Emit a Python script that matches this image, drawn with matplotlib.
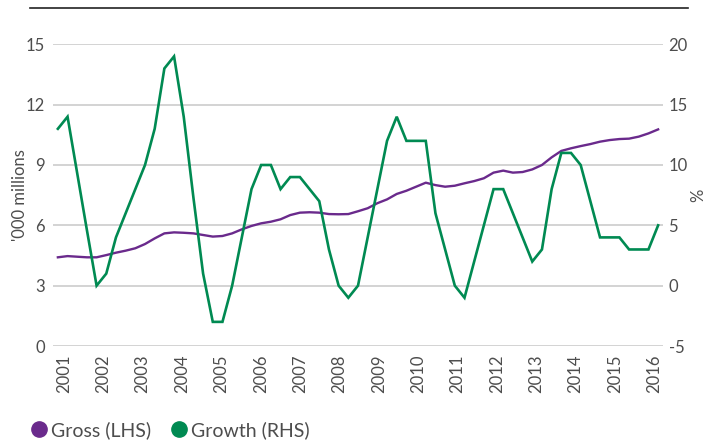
import numpy as np
import matplotlib
matplotlib.use('Agg')
import matplotlib.pyplot as plt
from matplotlib.lines import Line2D

plt.rcParams['font.family'] = ['Lato', 'DejaVu Sans']

# quarterly observations, 2001 to 2016
gross = [4.41, 4.47, 4.44, 4.41, 4.41, 4.52, 4.64, 4.74, 4.86, 5.07,
         5.35, 5.60, 5.65, 5.63, 5.60, 5.52, 5.44, 5.47, 5.60, 5.80,
         5.97, 6.10, 6.18, 6.30, 6.51, 6.63, 6.65, 6.63, 6.56, 6.55,
         6.56, 6.70, 6.85, 7.10, 7.29, 7.56, 7.72, 7.92, 8.12, 8.00,
         7.92, 7.97, 8.09, 8.20, 8.34, 8.62, 8.72, 8.62, 8.65, 8.78,
         9.00, 9.38, 9.70, 9.83, 9.94, 10.04, 10.16, 10.24, 10.29, 10.31,
         10.41, 10.57, 10.77]
growth = [13, 14, 9.3, 4.6, 0, 1, 4, 6, 8, 10,
          13, 18, 19, 14, 7.3, 1, -3, -3, 0, 4,
          8, 10, 10, 8, 9, 9, 8, 7, 3, 0,
          -1, 0, 4, 8, 12, 14, 12, 12, 12, 6,
          3, 0, -1, 2, 5, 8, 8, 6, 4, 2,
          3, 8, 11, 11, 10, 7, 4, 4, 4, 3,
          3, 3, 5]
years = [str(y) for y in range(2001, 2017)]
left_ticks = [0, 3, 6, 9, 12, 15]
right_ticks = [-5, 0, 5, 10, 15, 20]

purple = '#6a2a8c'
green = '#008a52'
grey = '#4d4d4d'

x = np.arange(len(gross))

fig = plt.figure(figsize=(7.08, 4.41), dpi=100)
ax = fig.add_axes([0.0749, 0.2154, 0.8615, 0.6841])
ax2 = ax.twinx()

ax.plot(x, gross, color=purple, lw=1.7, solid_joinstyle='round')
ax2.plot(x, growth, color=green, lw=1.9, solid_joinstyle='miter')

ax.set_xlim(-0.5, len(gross) - 0.5)
ax.set_ylim(0, 15)
ax2.set_ylim(-5, 20)
ax.set_yticks(left_ticks)
ax2.set_yticks(right_ticks)
ax.set_yticklabels([str(v) for v in left_ticks])
ax2.set_yticklabels([str(v) for v in right_ticks])

xt = 0.63 + 4.065 * np.arange(len(years))
ax.set_xticks(xt)
ax.set_xticklabels(years, rotation=90, va='top')

ax.grid(axis='y', color='#c8c8c8', lw=1.1)
ax.set_axisbelow(True)
for a in (ax, ax2):
    for s in a.spines.values():
        s.set_visible(False)
    a.tick_params(length=0, labelsize=12, colors=grey)
ax.tick_params(axis='y', pad=6)
ax.tick_params(axis='x', pad=6)
ax2.tick_params(axis='y', pad=4)

ax.set_ylabel("'000 millions", fontsize=12, color=grey, labelpad=-2)
ax2.set_ylabel('%', fontsize=12, color=grey, labelpad=2)

fig.add_artist(Line2D([30 / 708, 688 / 708], [0.982, 0.982], color='#222222', lw=1.2))

handles = [Line2D([], [], ls='none', marker='o', ms=11, color=purple),
           Line2D([], [], ls='none', marker='o', ms=11, color=green)]
leg = fig.legend(handles, ['Gross (LHS)', 'Growth (RHS)'], loc='center left',
                 bbox_to_anchor=(0.016, 0.025), ncol=2, frameon=False,
                 fontsize=14, handletextpad=0.15, columnspacing=0.9,
                 handlelength=1.0)
for t in leg.get_texts():
    t.set_color(grey)

fig.savefig('out.png', dpi=100)
